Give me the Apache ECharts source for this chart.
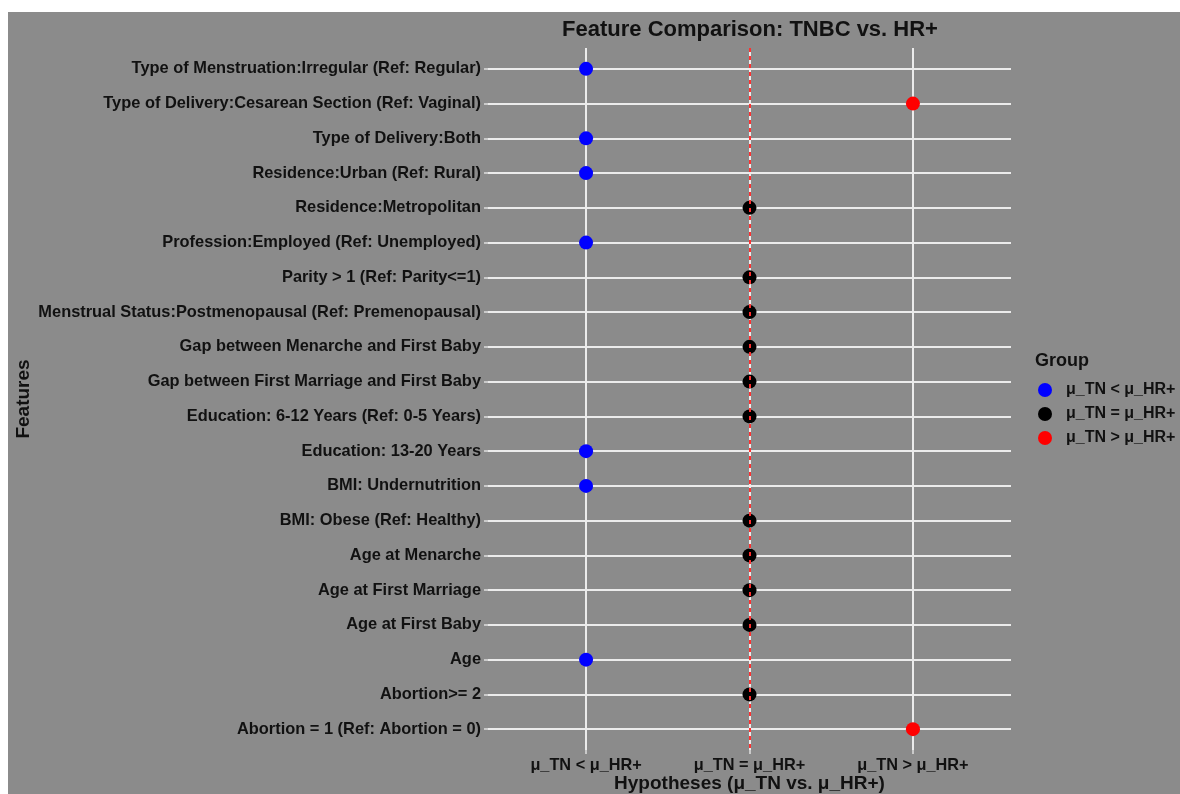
<!DOCTYPE html>
<html>
<head>
<meta charset="utf-8">
<script src="https://cdn.jsdelivr.net/npm/echarts@6/dist/echarts.min.js"></script>
<style>
  html, body { margin: 0; padding: 0; background: #ffffff; }
  #chart { position: absolute; left: 8px; top: 12px; width: 1172px; height: 782px; }
</style>
</head>
<body>
<div id="chart"></div>
<script>
// Features, listed top to bottom
const categories = [
  'Type of Menstruation:Irregular (Ref: Regular)',
  'Type of Delivery:Cesarean Section (Ref: Vaginal)',
  'Type of Delivery:Both',
  'Residence:Urban (Ref: Rural)',
  'Residence:Metropolitan',
  'Profession:Employed (Ref: Unemployed)',
  'Parity > 1 (Ref: Parity<=1)',
  'Menstrual Status:Postmenopausal (Ref: Premenopausal)',
  'Gap between Menarche and First Baby',
  'Gap between First Marriage and First Baby',
  'Education: 6-12 Years (Ref: 0-5 Years)',
  'Education: 13-20 Years',
  'BMI: Undernutrition',
  'BMI: Obese (Ref: Healthy)',
  'Age at Menarche',
  'Age at First Marriage',
  'Age at First Baby',
  'Age',
  'Abortion>= 2',
  'Abortion = 1 (Ref: Abortion = 0)'
];

// Hypothesis levels (x axis tick labels, also legend groups)
const hypotheses = ['μ_TN < μ_HR+', 'μ_TN = μ_HR+', 'μ_TN > μ_HR+'];

// Supported hypothesis for each feature (index into hypotheses)
const featureResult = [0, 2, 0, 0, 1, 0, 1, 1, 1, 1, 1, 0, 0, 1, 1, 1, 1, 0, 1, 2];

const groupColors = ['#0000ff', '#000000', '#ff0000'];

const FONT = 'Liberation Sans, Arial, Helvetica, sans-serif';
const TEXT = '#111111';
const GRID = '#ebebeb';

const xPositions = hypotheses.map((h, i) => i + 1);
const yPositions = categories.map((c, i) => i + 1);

const series = hypotheses.map((h, g) => {
  const data = [];
  featureResult.forEach((r, i) => { if (r === g) data.push([r + 1, i + 1]); });
  const s = {
    name: h,
    type: 'scatter',
    symbol: 'circle',
    symbolSize: 14,
    itemStyle: { color: groupColors[g], opacity: 1 },
    data: data,
    z: 3
  };
  if (g === 1) {
    // reference line at "no difference"
    s.markLine = {
      silent: true,
      symbol: 'none',
      z: 5,
      label: { show: false },
      lineStyle: { color: '#ff3030', type: [4, 4], width: 2 },
      data: [{ xAxis: 2 }]
    };
  }
  return s;
});

const chart = echarts.init(document.getElementById('chart'), null, { renderer: 'canvas' });
chart.setOption({
  backgroundColor: '#8b8b8b',
  animation: false,
  textStyle: { fontFamily: FONT },
  title: [
    {
      text: 'Feature Comparison: TNBC vs. HR+',
      left: 742, top: 7,
      padding: 0,
      textAlign: 'center',
      textStyle: { fontFamily: FONT, fontWeight: 'bold', fontSize: 22, color: TEXT }
    },
    {
      text: 'Group',
      left: 1027, top: 340,
      padding: 0,
      textStyle: { fontFamily: FONT, fontWeight: 'bold', fontSize: 18, color: TEXT }
    }
  ],
  legend: {
    orient: 'vertical',
    left: 1030, top: 370,
    padding: 0,
    itemWidth: 14, itemHeight: 14,
    itemGap: 8,
    icon: 'circle',
    data: hypotheses,
    textStyle: { fontFamily: FONT, fontWeight: 'bold', fontSize: 16, color: TEXT, padding: [0, 0, 0, 9] }
  },
  grid: {
    left: 480, right: 169, top: 36, bottom: 44,
    containLabel: false,
    outerBoundsMode: 'none'
  },
  xAxis: {
    type: 'value',
    min: 0.4, max: 3.6,
    name: 'Hypotheses (μ_TN vs. μ_HR+)',
    nameLocation: 'middle',
    nameGap: 24,
    nameMoveOverlap: false,
    nameTextStyle: { fontFamily: FONT, fontWeight: 'bold', fontSize: 19, color: TEXT },
    axisLine: { show: false },
    axisTick: { show: true, customValues: xPositions, length: 4, lineStyle: { color: '#e0e0e0', width: 1.5 } },
    axisLabel: {
      customValues: xPositions,
      margin: 8,
      formatter: v => hypotheses[Math.round(v) - 1],
      fontFamily: FONT, fontWeight: 'bold', fontSize: 16.3, color: TEXT
    },
    splitLine: { show: true, lineStyle: { color: GRID, width: 2 } }
  },
  yAxis: {
    type: 'value',
    inverse: true,
    min: 0.4, max: 20.6,
    name: 'Features',
    nameLocation: 'middle',
    nameGap: 455,
    nameMoveOverlap: false,
    nameRotate: 90,
    nameTextStyle: { fontFamily: FONT, fontWeight: 'bold', fontSize: 19, color: TEXT },
    axisLine: { show: false },
    axisTick: { show: true, customValues: yPositions, length: 4, lineStyle: { color: '#e0e0e0', width: 1.5 } },
    axisLabel: {
      customValues: yPositions,
      margin: 7,
      formatter: v => categories[Math.round(v) - 1],
      fontFamily: FONT, fontWeight: 'bold', fontSize: 16.4, color: TEXT
    },
    splitLine: { show: true, lineStyle: { color: GRID, width: 2 } }
  },
  series: series
});
</script>
</body>
</html>
